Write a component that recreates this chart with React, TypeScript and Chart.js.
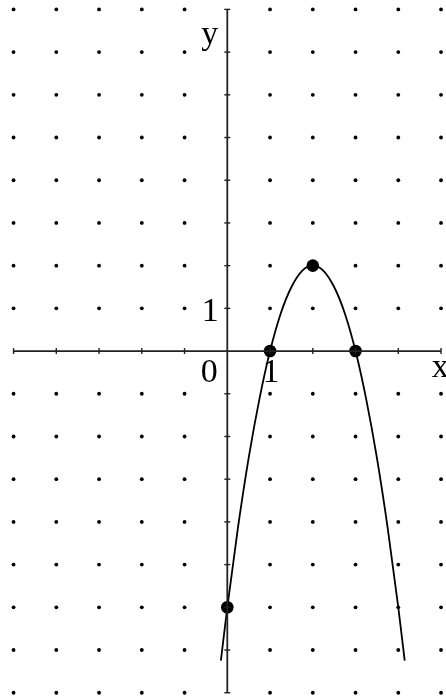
import React, { useEffect, useRef } from "react";
import { Chart, registerables } from "chart.js";

Chart.register(...registerables);

// Grid (integer lattice) values
const gridXs = [-5, -4, -3, -2, -1, 0, 1, 2, 3, 4, 5];
const gridYs = [-8, -7, -6, -5, -4, -3, -2, -1, 0, 1, 2, 3, 4, 5, 6, 7, 8];

// Curve points
const curveX = [-0.15, 0, 0.25, 0.5, 0.75, 1, 1.25, 1.5, 1.75, 2, 2.25, 2.5, 2.75, 3, 3.25, 3.5, 3.75, 4, 4.15];
const curveY = [-7.25, -6, -4.13, -2.5, -1.13, 0, 0.88, 1.5, 1.88, 2, 1.88, 1.5, 0.88, 0, -1.13, -2.5, -4.13, -6, -7.25];

// Marked points
const markX = [0, 1, 2, 3];
const markY = [-6, 0, 2, 0];

// Text labels
const labelText = ["y", "x", "0", "1", "1"];
const labelX = [-0.41, 4.98, -0.42, 1.02, -0.4];
const labelY = [7.2, -0.61, -0.73, -0.73, 0.7];

export default function App() {
  const ref = useRef<HTMLCanvasElement | null>(null);

  useEffect(() => {
    document.body.style.margin = "0";
    const canvas = ref.current;
    if (!canvas) return;

    const dots: { x: number; y: number }[] = [];
    gridXs.forEach((x) =>
      gridYs.forEach((y) => {
        if (x !== 0 && y !== 0) dots.push({ x, y });
      })
    );
    const xTicks = gridXs.filter((x) => x !== 0).map((x) => ({ x, y: 0 }));
    const yTicks = gridYs.filter((y) => y !== 0).map((y) => ({ x: 0, y }));

    const labelPlugin = {
      id: "labels",
      afterDatasetsDraw(chart: any) {
        const ctx = chart.ctx;
        const xs = chart.scales.x;
        const ys = chart.scales.y;
        ctx.save();
        ctx.fillStyle = "#000";
        ctx.font = '34px "Liberation Serif", serif';
        ctx.textAlign = "center";
        ctx.textBaseline = "alphabetic";
        labelText.forEach((t, i) => {
          ctx.fillText(t, xs.getPixelForValue(labelX[i]), ys.getPixelForValue(labelY[i]));
        });
        ctx.restore();
      },
    };

    const chart = new Chart(canvas, {
      type: "scatter",
      data: {
        datasets: [
          {
            data: dots,
            pointRadius: 1.9,
            pointBackgroundColor: "#000",
            pointBorderWidth: 0,
            showLine: false,
          },
          {
            data: [
              { x: gridXs[0], y: 0 },
              { x: gridXs[gridXs.length - 1], y: 0 },
            ],
            showLine: true,
            borderColor: "#222",
            borderWidth: 1.8,
            pointRadius: 0,
          },
          {
            data: [
              { x: 0, y: gridYs[0] },
              { x: 0, y: gridYs[gridYs.length - 1] },
            ],
            showLine: true,
            borderColor: "#222",
            borderWidth: 1.8,
            pointRadius: 0,
          },
          {
            data: xTicks,
            pointStyle: "line",
            rotation: 90,
            pointRadius: 3,
            borderColor: "#222",
            pointBorderWidth: 1.4,
            showLine: false,
          },
          {
            data: yTicks,
            pointStyle: "line",
            rotation: 0,
            pointRadius: 3,
            borderColor: "#222",
            pointBorderWidth: 1.4,
            showLine: false,
          },
          {
            data: curveX.map((x, i) => ({ x, y: curveY[i] })),
            showLine: true,
            borderColor: "#000",
            borderWidth: 1.8,
            pointRadius: 0,
            cubicInterpolationMode: "monotone",
          },
          {
            data: markX.map((x, i) => ({ x, y: markY[i] })),
            showLine: false,
            pointRadius: 6.3,
            pointBackgroundColor: "#000",
            pointBorderColor: "#000",
            pointBorderWidth: 0,
          },
        ],
      } as any,
      options: {
        animation: false,
        responsive: false,
        maintainAspectRatio: false,
        layout: { padding: 0, autoPadding: false },
        plugins: {
          legend: { display: false },
          tooltip: { enabled: false },
        },
        scales: {
          x: { type: "linear", min: -5.317, max: 5.116, display: false },
          y: { type: "linear", min: -8.1, max: 8.22, display: false },
        },
      },
      plugins: [labelPlugin],
    });

    return () => chart.destroy();
  }, []);

  return (
    <div style={{ position: "fixed", left: 0, top: 0, width: 446, height: 697, background: "#fff" }}>
      <canvas ref={ref} width={446} height={697} style={{ display: "block", width: 446, height: 697 }} />
    </div>
  );
}
